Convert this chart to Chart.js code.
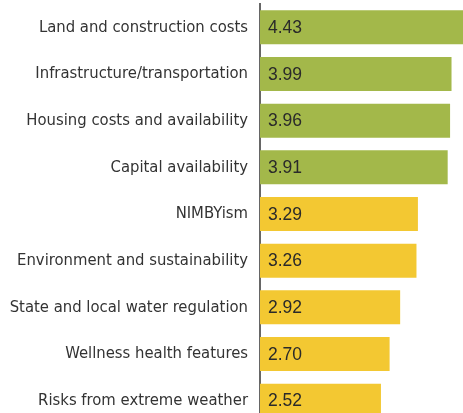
<!DOCTYPE html>
<html>
<head>
<meta charset="utf-8">
<script src="https://cdn.jsdelivr.net/npm/chart.js@4"></script>
<style>
  html, body { margin: 0; padding: 0; overflow: hidden; background: #fff; }
  #wrap { width: 476px; height: 424px; }
</style>
</head>
<body>
<div id="wrap"><canvas id="graph"></canvas></div>
<script>
var labels = [
  'Land and construction costs',
  'Infrastructure/transportation',
  'Housing costs and availability',
  'Capital availability',
  'NIMBYism',
  'Environment and sustainability',
  'State and local water regulation',
  'Wellness health features',
  'Risks from extreme weather'
];
var scores = [4.43, 3.99, 3.96, 3.91, 3.29, 3.26, 2.92, 2.70, 2.52];
var green = '#a3b84a';
var yellow = '#f3c832';
var barColors = [green, green, green, green, yellow, yellow, yellow, yellow, yellow];

var context = document.querySelector('#graph').getContext('2d');

// value text drawn inside each bar, near its base
var valueLabels = {
  id: 'valueLabels',
  afterDatasetsDraw: function(chart) {
    var ctx = chart.ctx;
    var meta = chart.getDatasetMeta(0);
    ctx.save();
    ctx.font = '17.5px "Liberation Sans", Arial, sans-serif';
    ctx.fillStyle = '#2a2a2a';
    ctx.textAlign = 'left';
    ctx.textBaseline = 'middle';
    meta.data.forEach(function(bar, i) {
      ctx.fillText(scores[i].toFixed(2), bar.base + 8, bar.y + 1);
    });
    ctx.restore();
  }
};

var chart = new Chart(context, {
  type: 'bar',
  data: {
    labels: labels,
    datasets: [{
      data: scores,
      backgroundColor: barColors,
      borderWidth: 0,
      barPercentage: 0.73,
      categoryPercentage: 1
    }]
  },
  options: {
    indexAxis: 'y',
    responsive: true,
    maintainAspectRatio: false,
    animation: false,
    layout: { padding: { top: 4, right: 0, bottom: 0, left: 0 } },
    plugins: {
      legend: { display: false },
      tooltip: { enabled: false }
    },
    scales: {
      x: {
        min: 0,
        max: 4.5,
        display: false
      },
      y: {
        afterFit: function(scale) {
          scale.width = 260;
          scale.paddingTop = 0;
          scale.paddingBottom = 0;
        },
        grid: { display: false, drawTicks: false },
        border: { display: true, color: '#666', width: 2 },
        ticks: {
          color: '#333',
          padding: 12,
          font: { family: '"DejaVu Sans Condensed", "Liberation Sans Narrow", sans-serif', size: 16.5 }
        }
      }
    }
  },
  plugins: [valueLabels]
});
</script>
</body>
</html>
